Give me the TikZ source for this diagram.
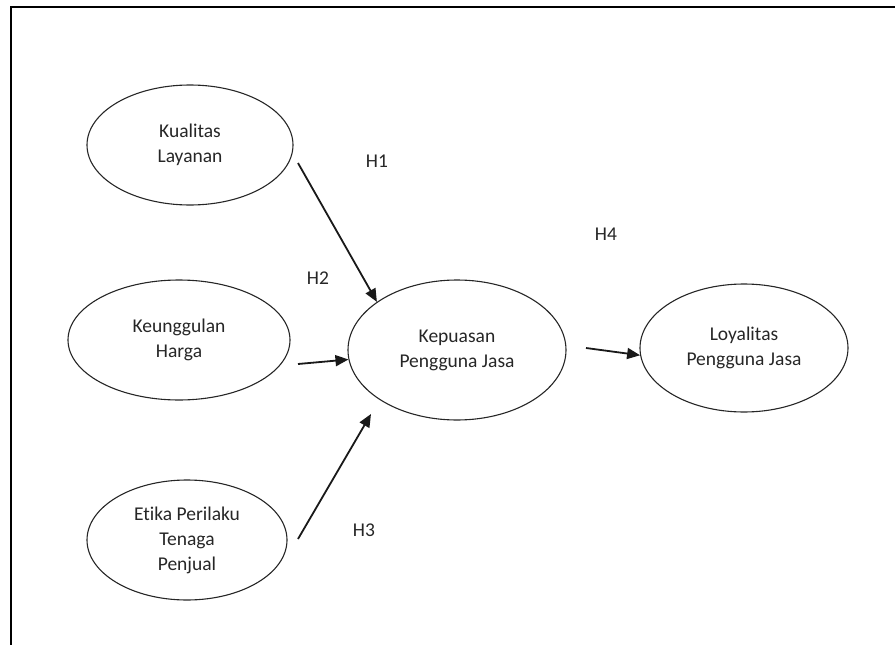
\documentclass[tikz,border=0pt]{standalone}
\usepackage{fontspec}
\setmainfont{Carlito}[Ligatures=NoCommon]
\usetikzlibrary{shapes.geometric,arrows.meta}
\begin{document}
\begin{tikzpicture}[x=1pt,y=-1pt,
  var/.style={ellipse, draw=black!85, line width=1.1pt, inner sep=0pt, align=center,
    text=black!85, font=\fontsize{19.5}{25}\selectfont},
  arr/.style={line width=1.8pt, black!90, -{Triangle[length=13pt,width=11pt]}},
  lab/.style={text=black!85, font=\fontsize{19.5}{24}\selectfont, inner sep=0pt}]
\useasboundingbox (0,0) rectangle (895,645);
\draw[line width=2pt] (11,645) -- (11,6.5) -- (895,6.5);

\node[var, minimum width=206pt, minimum height=120pt] (kl) at (190,145) {Kualitas\\Layanan};
\node[var, minimum width=222pt, minimum height=120pt] (kh) at (179,340) {Keunggulan\\Harga};
\node[var, minimum width=200pt, minimum height=120pt] (ep) at (187,540) {Etika Perilaku\\Tenaga\\Penjual};
\node[var, minimum width=218pt, minimum height=140pt] (kp) at (457,350) {Kepuasan\\Pengguna Jasa};
\node[var, minimum width=208pt, minimum height=128pt] (lp) at (744,348) {Loyalitas\\Pengguna Jasa};

\coordinate (s1) at (298,163);
\coordinate (s2) at (298,364);
\coordinate (s3) at (298,539);
\coordinate (e3) at (371,414);
\coordinate (s4) at (586,348);

\draw[arr] (s1) -- (kp.149);
\draw[arr] (s2) -- (kp.185);
\draw[arr] (s3) -- (e3);
\draw[arr] (s4) -- (lp.184);

\node[lab] (h1) at (377,161) {H1};
\node[lab] (h2) at (318,278) {H2};
\node[lab] (h3) at (364,530) {H3};
\node[lab] (h4) at (606,234) {H4};
\end{tikzpicture}
\end{document}
